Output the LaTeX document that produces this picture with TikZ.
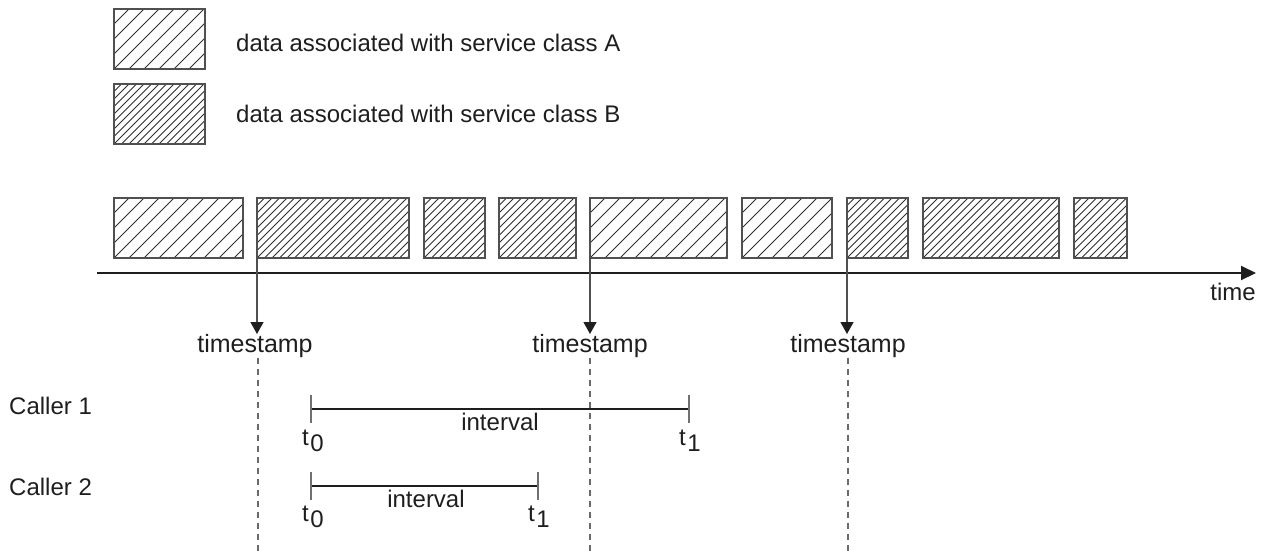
\documentclass[tikz,border=0pt]{standalone}
\usepackage{fontspec}
\setmainfont{Liberation Sans}
\usetikzlibrary{arrows.meta}
\definecolor{ink}{HTML}{1E1E1E}
\definecolor{boxgray}{HTML}{505050}
\definecolor{hatchgray}{HTML}{303030}
\definecolor{tickgray}{HTML}{707070}
\definecolor{dashgray}{HTML}{6A6A6A}
\begin{document}
\begin{tikzpicture}[x=1pt,y=-1pt,
  every node/.style={text=ink, font=\fontsize{24}{28}\selectfont},
  hatch/.style={draw=hatchgray, line width=0.9pt},
  databox/.style={draw=boxgray, line width=1.3pt, anchor=north west, inner sep=0pt, outer sep=0pt, minimum height=60pt},
  hatchA/.style={databox, path picture={\foreach \k in {-5,...,12}{\draw[hatch] ([xshift=\k*15pt]path picture bounding box.south west) -- ++(80pt,80pt);}}},
  hatchB/.style={databox, path picture={\foreach \k in {-9,...,22}{\draw[hatch] ([xshift=\k*7.5pt]path picture bounding box.south west) -- ++(80pt,80pt);}}},
  label/.style={inner sep=0pt},
  tslabel/.style={inner sep=0pt, font=\fontsize{25}{30}\selectfont},
  tsarrow/.style={draw=boxgray, line width=1.3pt, -{Triangle[length=12pt,width=13pt,color=ink]}},
  dashline/.style={draw=dashgray, line width=1.3pt, dash pattern=on 6pt off 5pt},
  ivline/.style={draw=ink, line width=1.4pt},
  tick/.style={draw=tickgray, line width=1.4pt}
]
\useasboundingbox (0,0) rectangle (1262,555);

% legend
\node[hatchA, minimum width=91pt] (legA) at (114,9) {};
\node[hatchB, minimum width=91pt] (legB) at (114,84) {};
\node[label, anchor=west] (legAt) at (236,43) {data associated with service class A};
\node[label, anchor=west] (legBt) at (236,114) {data associated with service class B};

% data boxes
\node[hatchA, minimum width=129pt] (b1) at (114,198) {};
\node[hatchB, minimum width=152pt] (b2) at (257,198) {};
\node[hatchB, minimum width=61pt]  (b3) at (424,198) {};
\node[hatchB, minimum width=77pt]  (b4) at (499,198) {};
\node[hatchA, minimum width=137pt] (b5) at (590,198) {};
\node[hatchA, minimum width=90pt]  (b6) at (742,198) {};
\node[hatchB, minimum width=61pt]  (b7) at (847,198) {};
\node[hatchB, minimum width=136pt] (b8) at (923,198) {};
\node[hatchB, minimum width=53pt]  (b9) at (1074,198) {};

% time axis
\coordinate (ax0) at (97,273);
\coordinate (ax1) at (1256,273);
\draw[draw=ink, line width=2pt, -{Triangle[length=15pt,width=14pt]}] (ax0) -- (ax1);
\node[label, anchor=base east] (timelab) at (1256,300) {time};

% timestamps
\node[tslabel, anchor=north] (ts1) at (255,334) {timestamp};
\node[tslabel, anchor=north] (ts2) at (590,334) {timestamp};
\node[tslabel, anchor=north] (ts3) at (848,334) {timestamp};
\draw[tsarrow] (b2.south west) -- (b2.south west |- ts1.north);
\draw[tsarrow] (b5.south west) -- (b5.south west |- ts2.north);
\draw[tsarrow] (b7.south west) -- (b7.south west |- ts3.north);
\coordinate (d1) at (258,555);
\coordinate (d2) at (590,555);
\coordinate (d3) at (848,555);
\draw[dashline] (d1 |- ts1.south) -- (d1);
\draw[dashline] (d2 |- ts2.south) -- (d2);
\draw[dashline] (d3 |- ts3.south) -- (d3);

% callers
\node[label, anchor=base west] (c1) at (9,414) {Caller 1};
\node[label, anchor=base west] (c2) at (9,495) {Caller 2};

% interval 1
\coordinate (i1a) at (311,409);
\coordinate (i1b) at (689,409);
\draw[ivline] (i1a) -- (i1b);
\draw[tick] ([yshift=14pt]i1a) -- ([yshift=-14pt]i1a);
\draw[tick] ([yshift=14pt]i1b) -- ([yshift=-14pt]i1b);
\node[label, anchor=base] (iv1) at (500,430) {interval};
\node[label, anchor=base] (t01) at (313,445) {t\kern1.5pt\raisebox{-6pt}{0}};
\node[label, anchor=base] (t11) at (690,445) {t\kern1.5pt\raisebox{-6pt}{1}};

% interval 2
\coordinate (i2a) at (311,486);
\coordinate (i2b) at (538,486);
\draw[ivline] (i2a) -- (i2b);
\draw[tick] ([yshift=14pt]i2a) -- ([yshift=-14pt]i2a);
\draw[tick] ([yshift=14pt]i2b) -- ([yshift=-14pt]i2b);
\node[label, anchor=base] (iv2) at (426,507) {interval};
\node[label, anchor=base] (t02) at (313,521) {t\kern1.5pt\raisebox{-6pt}{0}};
\node[label, anchor=base] (t12) at (539,521) {t\kern1.5pt\raisebox{-6pt}{1}};
\end{tikzpicture}
\end{document}
